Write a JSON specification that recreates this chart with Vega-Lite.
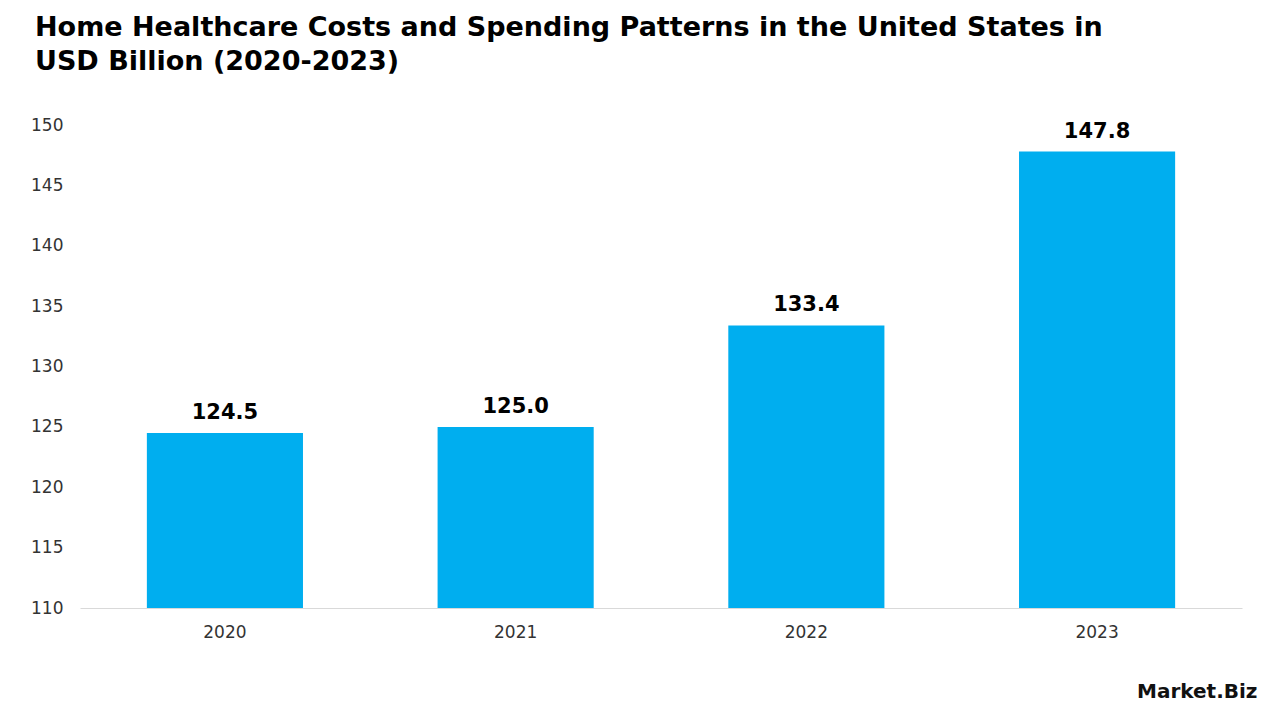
{
  "$schema": "https://vega.github.io/schema/vega-lite/v6.json",
  "width": 1162,
  "height": 483,
  "autosize": {"type": "none"},
  "padding": {"left": 80, "top": 125, "right": 38, "bottom": 112},
  "background": "white",
  "title": {
    "text": ["Home Healthcare Costs and Spending Patterns in the United States in", "USD Billion (2020-2023)"],
    "anchor": "start",
    "frame": "group",
    "dx": -45,
    "offset": 40,
    "font": "DejaVu Sans",
    "fontSize": 27,
    "fontWeight": "bold",
    "color": "#000000",
    "lineHeight": 34
  },
  "data": {
    "values": [
      {"year": "2020", "value": 124.5},
      {"year": "2021", "value": 125.0},
      {"year": "2022", "value": 133.4},
      {"year": "2023", "value": 147.8}
    ]
  },
  "encoding": {
    "x": {
      "field": "year",
      "type": "nominal",
      "scale": {"paddingInner": 0.463, "paddingOuter": 0.23},
      "axis": {
        "labelAngle": 0,
        "labelFont": "DejaVu Sans",
        "labelFontSize": 17,
        "labelColor": "#333333",
        "labelPadding": 16,
        "ticks": false,
        "domainColor": "#d9d9d9",
        "domainWidth": 1,
        "title": "Market.Biz",
        "titleFont": "DejaVu Sans",
        "titleFontSize": 20,
        "titleFontWeight": "bold",
        "titleColor": "#111111",
        "titleAnchor": "end",
        "titleAlign": "right",
        "titleBaseline": "top",
        "titleX": 1177,
        "titleY": 73
      }
    },
    "y": {
      "field": "value",
      "type": "quantitative",
      "scale": {"domain": [110, 150], "zero": false, "nice": false},
      "axis": {
        "values": [110, 115, 120, 125, 130, 135, 140, 145, 150],
        "labelFont": "DejaVu Sans",
        "labelFontSize": 17,
        "labelColor": "#333333",
        "labelPadding": 17,
        "ticks": false,
        "domain": false,
        "grid": false,
        "title": null
      }
    }
  },
  "layer": [
    {"mark": {"type": "bar", "color": "#00AEEF", "clip": true}},
    {
      "mark": {"type": "text", "baseline": "bottom", "dy": -10, "font": "DejaVu Sans", "fontSize": 21, "fontWeight": "bold", "color": "#000000"},
      "encoding": {"text": {"field": "value", "type": "quantitative", "format": ".1f"}}
    }
  ],
  "config": {"view": {"stroke": null}}
}
